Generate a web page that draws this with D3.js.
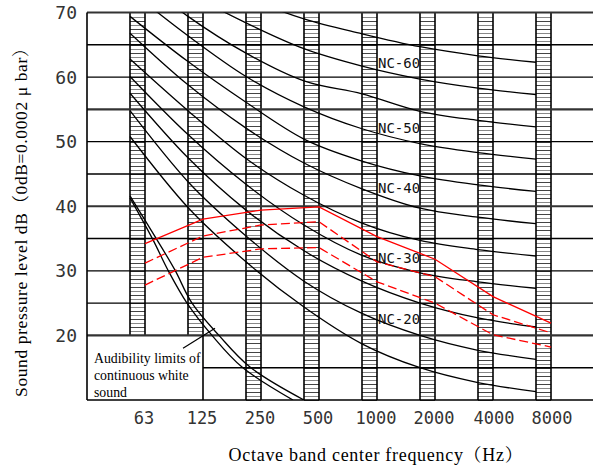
<!DOCTYPE html>
<html><head><meta charset="utf-8">
<script src="https://cdn.jsdelivr.net/npm/d3@7"></script>
<style>body{margin:0;background:#fff}svg{display:block}</style>
</head><body>
<script>
// Octave band centre frequencies (tick labels)
const bands = ["63","125","250","500","1000","2000","4000","8000"];
// Y tick labels (dB)
const yTickValues = [20,30,40,50,60,70];
// grid levels (dB)
const gridLevels = [10,15,20,25,30,35,40,45,50,55,60,65,70];
const thickLevels = [70,55,40,20];

// NC curves, values read at the left edge of every band column (dB)
const nc15 = [50.8,39.8,31.4,24.4,18.7,15.0,12.7,11.3];
const nc20 = [54.8,43.8,35.4,28.4,23.4,20.0,17.7,16.3];
const nc25 = [57.5,47.5,39.4,33.1,28.4,25.0,22.7,21.3];
const nc30 = [60.1,51.1,43.4,37.1,32.4,29.7,28.3,27.3];
const nc35 = [62.8,54.8,47.4,41.7,37.4,34.7,33.3,32.3];
const nc40 = [66.8,58.8,52.1,46.7,42.7,39.7,38.3,37.3];
const nc45 = [69.4,62.4,56.1,50.4,47.0,44.7,43.3,42.3];
const nc50 = [73.4,66.4,60.1,55.4,52.0,49.7,48.3,47.3];
const nc55 = [76.4,69.4,63.7,59.4,57.4,54.7,53.3,52.3];
const nc60 = [79.1,73.1,68.4,64.4,61.7,59.7,58.3,57.3];
const nc65 = [81.7,76.7,72.4,69.0,66.7,64.7,63.3,62.3];
const ncCurves = [nc15,nc20,nc25,nc30,nc35,nc40,nc45,nc50,nc55,nc60,nc65];

// NC labels
const ncLabelText = ["NC-60","NC-50","NC-40","NC-30","NC-20"];
const ncLabelDb   = [62.2,52.1,42.8,32.0,22.6];

// Red measured spectra (values at right edge of each band column, dB)
const redSolid  = [34.2,38.0,39.4,39.9,35.3,31.8,26.0,21.9];
const redDashA  = [31.2,35.4,37.1,37.6,31.4,29.1,23.2,20.4];
const redDashB  = [27.8,32.1,33.4,33.6,28.3,25.0,20.1,18.2];

// Audibility limits of continuous white sound (band index position, dB)
const audInnerPos = [0,0.397,0.655,0.983,1.414,1.931,2.81];
const audInnerDb  = [41.3,34.8,30.1,25.0,20.0,15.1,10.0];
const audOuterPos = [0,0.466,0.776,1.069,1.534,2.069,3.0];
const audOuterDb  = [41.6,34.8,30.1,25.0,20.0,15.1,10.0];
const leaderPos = [0.914,1.466];
const leaderDb  = [18.0,21.1];
const noteLines = ["Audibility limits of","continuous white","sound"];

const W = 593, H = 473;
const svg = d3.select("body").append("svg").attr("width",W).attr("height",H);

const left = 87, right = 593;
const colW = 15;
const x = d3.scalePoint().domain(bands).range([130,536]);
const xi = d3.scaleLinear().domain([0,7]).range([130,536]);
const y = d3.scaleLinear().domain([10,70]).range([400,12.5]);
const boxRight = x("125") + colW;

// clip
svg.append("defs").append("clipPath").attr("id","plot")
  .append("rect").attr("x",left).attr("y",y(70)).attr("width",right-left).attr("height",y(10)-y(70));

// columns with hatching
const cols = svg.append("g");
bands.forEach(b => {
  const bottom = (b === "63" || b === "125") ? 20 : 10;
  const x0 = x(b);
  const hatch = d3.range(bottom, 70, 0.625);
  cols.selectAll(null).data(hatch).enter().append("line")
    .attr("x1",x0).attr("x2",x0+colW)
    .attr("y1",d=>Math.round(y(d))+0.5).attr("y2",d=>Math.round(y(d))+0.5)
    .attr("stroke",(d,i)=> i%2 ? "#888" : "#444").attr("stroke-width",1)
    .attr("shape-rendering","crispEdges");
  [x0, x0+colW].forEach(xx => {
    cols.append("line").attr("x1",xx).attr("x2",xx)
      .attr("y1",y(70)).attr("y2",y(bottom))
      .attr("stroke","#000").attr("stroke-width",1.6);
  });
});

// horizontal grid
const grid = svg.append("g");
gridLevels.forEach(v => {
  const x1 = (v > 10 && v < 20) ? boxRight : left;
  const thick = thickLevels.includes(v);
  grid.append("line").attr("x1",x1).attr("x2",right)
    .attr("y1",y(v)).attr("y2",y(v))
    .attr("stroke", thick ? "#333" : "#000")
    .attr("stroke-width", thick ? 2.2 : 1.4);
});
// left axis + box right edge
svg.append("line").attr("x1",left).attr("x2",left).attr("y1",y(70)).attr("y2",y(10))
  .attr("stroke","#000").attr("stroke-width",1.6);
svg.append("line").attr("x1",boxRight).attr("x2",boxRight).attr("y1",y(20)).attr("y2",y(10))
  .attr("stroke","#000").attr("stroke-width",1.6);

// NC curves
const curves = svg.append("g").attr("clip-path","url(#plot)");
const ncLine = d3.line().x((d,i)=>x(bands[i])).y(d=>y(d)).curve(d3.curveMonotoneX);
curves.selectAll(null).data(ncCurves).enter().append("path")
  .attr("d",ncLine).attr("fill","none").attr("stroke","#000").attr("stroke-width",1.3);

// audibility curves
const audLine = d3.line().x(d=>xi(d[0])).y(d=>y(d[1])).curve(d3.curveCatmullRom.alpha(0.5));
[[audInnerPos,audInnerDb],[audOuterPos,audOuterDb]].forEach(([p,v]) => {
  curves.append("path").attr("d",audLine(p.map((q,i)=>[q,v[i]])))
    .attr("fill","none").attr("stroke","#000").attr("stroke-width",1.3);
});
svg.append("line")
  .attr("x1",xi(leaderPos[0])).attr("y1",y(leaderDb[0]))
  .attr("x2",xi(leaderPos[1])).attr("y2",y(leaderDb[1]))
  .attr("stroke","#000").attr("stroke-width",1.2);

// red lines
const redLine = d3.line().x((d,i)=>x(bands[i])+colW).y(d=>y(d));
[[redSolid,null],[redDashA,"9,4"],[redDashB,"9,4"]].forEach(([s,dash]) => {
  const p = curves.append("path").attr("d",redLine(s)).attr("fill","none")
    .attr("stroke","#ff0000").attr("stroke-width",1.3);
  if (dash) p.attr("stroke-dasharray",dash);
});

// NC labels
const mono = "'DejaVu Sans Mono', monospace";
svg.selectAll(null).data(ncLabelText).enter().append("text")
  .attr("x", x("1000")+colW+1).attr("y",(d,i)=>y(ncLabelDb[i]))
  .attr("dominant-baseline","central")
  .attr("font-family",mono).attr("font-size",14).attr("fill","#111")
  .text(d=>d);

// y tick labels
svg.selectAll(null).data(yTickValues).enter().append("text")
  .attr("x",77).attr("y",d=>y(d)).attr("text-anchor","end").attr("dominant-baseline","central")
  .attr("font-family",mono).attr("font-size",18).attr("fill","#333")
  .text(d=>d);

// x tick labels
svg.selectAll(null).data(bands).enter().append("text")
  .attr("x",(d,i)=>x(d)+14+(i>5?2:0)).attr("y",424).attr("text-anchor","middle")
  .attr("font-family",mono).attr("font-size",17).attr("fill","#333")
  .text(d=>d);

// annotation text
const serif = "'Liberation Serif', 'Noto Serif CJK SC', 'Noto Sans CJK SC', serif";
svg.selectAll(null).data(noteLines).enter().append("text")
  .attr("x",left+7).attr("y",(d,i)=>363+i*17)
  .attr("font-family",serif).attr("font-size",13.8).attr("fill","#000")
  .text(d=>d);

// axis titles
svg.append("text").attr("x",376).attr("y",461).attr("text-anchor","middle")
  .attr("font-family",serif).attr("font-size",18).attr("letter-spacing",0.7).attr("fill","#000")
  .text("Octave band center frequency（Hz）");
svg.append("text").attr("transform","translate(27,218) rotate(-90)")
  .attr("text-anchor","middle")
  .attr("font-family",serif).attr("font-size",17.5).attr("letter-spacing",0.6).attr("fill","#000")
  .text("Sound pressure level dB（0dB=0.0002 μ bar）");
</script>
</body></html>
